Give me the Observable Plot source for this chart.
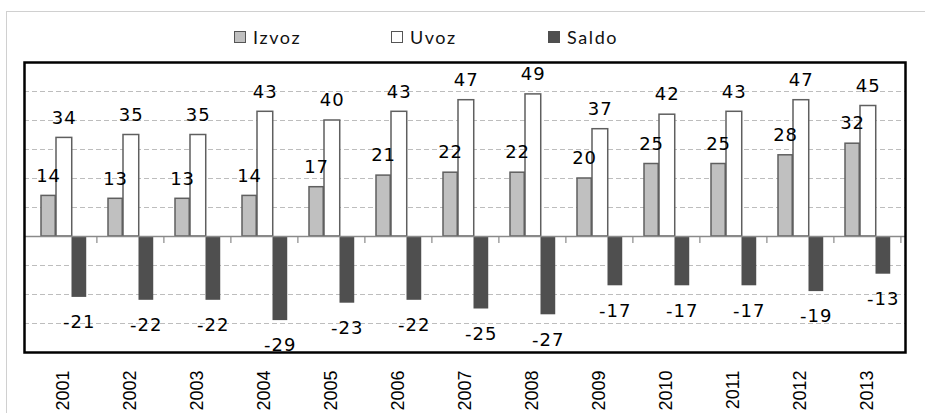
<!DOCTYPE html>
<html><head><meta charset="utf-8">
<script src="https://cdn.jsdelivr.net/npm/d3@7"></script>
<script src="https://cdn.jsdelivr.net/npm/@observablehq/plot@0.6"></script>
<style>
body{margin:0;background:#fff;}
#wrap{position:relative;width:925px;height:413px;overflow:hidden;background:#fff;}
#border{position:absolute;left:6px;top:11px;width:1000px;height:1000px;border:1.5px solid #d0d0d0;pointer-events:none;}
#legend{position:absolute;top:27px;left:234px;display:flex;font-family:Lato,"Liberation Sans",sans-serif;font-size:18px;letter-spacing:1.6px;color:#111;}
.item{width:157px;display:flex;align-items:center;height:20px;}
.sw{width:10px;height:10px;border:1px solid #555;margin-right:7px;box-sizing:content-box;}
svg g[aria-label="text"]{letter-spacing:1px;}
</style>
</head><body>
<div id="wrap"><div id="chart"></div><div id="border"></div><div id="legend"></div></div>
<script>
const years = ["2001","2002","2003","2004","2005","2006","2007","2008","2009","2010","2011","2012","2013"];
const izvoz = [14,13,13,14,17,21,22,22,20,25,25,28,32];
const uvoz  = [34,35,35,43,40,43,47,49,37,42,43,47,45];
const saldo = [-21,-22,-22,-29,-23,-22,-25,-27,-17,-17,-17,-19,-13];
const seriesNames = ["Izvoz","Uvoz","Saldo"];
const gridTicks = [-30,-20,-10,10,20,30,40,50];

const rows = (vals) => years.map((y,i)=>({year:y, value:vals[i]}));
const rIz = rows(izvoz), rUv = rows(uvoz), rSa = rows(saldo);

const W = 925, H = 413, mL = 24, mR = 20;
const bw = (W - mL - mR) / years.length;

const plot = Plot.plot({
  width: W, height: H,
  marginLeft: mL, marginRight: mR, marginTop: 62, marginBottom: 61,
  style: {fontFamily: "Liberation Sans, sans-serif", fontSize: "16px", background: "transparent"},
  x: {domain: years, padding: 0, label: null},
  y: {domain: [-40, 60], axis: null},
  marks: [
    Plot.ruleY(gridTicks, {stroke: "#bdbdbd", strokeWidth: 1.2, strokeDasharray: "5,3"}),
    Plot.barY(rIz, {x: "year", y: "value", fill: "#c0c0c0", stroke: "#5f5f5f", strokeWidth: 1.5, insetLeft: 12, insetRight: bw - 27}),
    Plot.barY(rUv, {x: "year", y: "value", fill: "#ffffff", stroke: "#5f5f5f", strokeWidth: 1.5, insetLeft: 27, insetRight: bw - 43.5}),
    Plot.barY(rSa, {x: "year", y: "value", fill: "#4f4f4f", insetLeft: 42.5, insetRight: bw - 58}),
    Plot.ruleY([0], {stroke: "#8a8a8a", strokeWidth: 1.5}),
    Plot.ruleX(years, {x: d => d, y1: 0, y2: -2.4, dx: bw / 2, stroke: "#8a8a8a", strokeWidth: 1.2}),
    Plot.text(rIz, {x: "year", y: "value", text: d => String(d.value), dx: 19.5 - bw / 2, dy: -20, fontFamily: "DejaVu Sans", fontSize: 18, fill: "#000"}),
    Plot.text(rUv, {x: "year", y: "value", text: d => String(d.value), dx: 35.2 - bw / 2, dy: -20, fontFamily: "DejaVu Sans", fontSize: 18, fill: "#000"}),
    Plot.text(rSa, {x: "year", y: "value", text: d => String(d.value), dx: 50.2 - bw / 2, dy: 25, fontFamily: "DejaVu Sans", fontSize: 18, fill: "#000"}),
    Plot.axisX({ticks: years, tickSize: 0, tickRotate: -90, tickPadding: 18, fontSize: 18, label: null, fill: "#000"}),
    Plot.frame({stroke: "#000", strokeWidth: 2.5})
  ]
});
document.getElementById("chart").appendChild(plot);

const legendStyles = {
  Izvoz: {fill: "#c0c0c0", border: "#555"},
  Uvoz: {fill: "#ffffff", border: "#555"},
  Saldo: {fill: "#4f4f4f", border: "#4f4f4f"}
};
const leg = document.getElementById("legend");
seriesNames.forEach(n => {
  const it = document.createElement("div"); it.className = "item";
  const sw = document.createElement("div"); sw.className = "sw";
  sw.style.background = legendStyles[n].fill; sw.style.borderColor = legendStyles[n].border;
  const t = document.createElement("span"); t.textContent = n;
  it.appendChild(sw); it.appendChild(t); leg.appendChild(it);
});
</script>
</body></html>
